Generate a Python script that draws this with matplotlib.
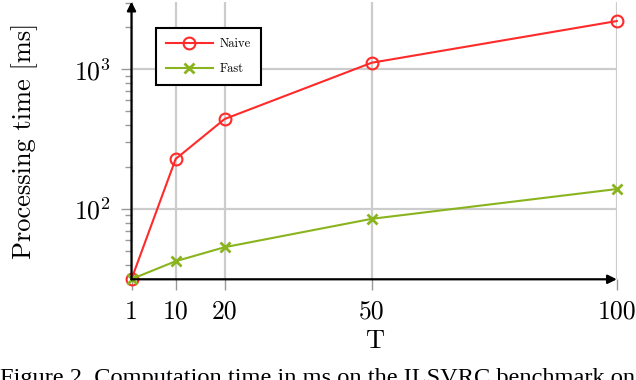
import numpy as np
import matplotlib
matplotlib.use('Agg')
import matplotlib.pyplot as plt
from matplotlib.ticker import FixedLocator, LogLocator, NullFormatter

# Data
T = [1, 10, 20, 50, 100]
naive = [31.5, 228, 441, 1115, 2217]
fast = [31.5, 42.3, 53.3, 85.1, 139]
xticks = [1, 10, 20, 50, 100]

RED = '#ff2a2a'
GREEN = '#8ab41e'
GRID = '#cccccc'
TICK = '#999999'

plt.rcParams['font.family'] = 'cmr10'
plt.rcParams['mathtext.fontset'] = 'cm'
plt.rcParams['axes.formatter.use_mathtext'] = True

fig = plt.figure(figsize=(6.36, 3.8), dpi=100)
ax = fig.add_axes([131.5 / 636, 1 - 279.3 / 380, (616.8 - 131.5) / 636, (279.3 - 1.7) / 380])

ax.plot(T, naive, color=RED, lw=1.5, marker='o', ms=8.5, mfc='none', mew=1.5,
		clip_on=False, zorder=4, label='Naive')
ax.plot(T, fast, color=GREEN, lw=1.5, marker='x', ms=7, mew=2,
		clip_on=False, zorder=4, label='Fast')

ax.set_yscale('log')
ax.set_xlim(1, 100)
ax.set_ylim(31.4, 3050)

ax.xaxis.set_major_locator(FixedLocator(xticks))
ax.set_xticklabels([str(t) for t in xticks])
ax.yaxis.set_major_locator(FixedLocator([100, 1000]))
ax.yaxis.set_minor_locator(LogLocator(base=10, subs=np.arange(2, 10)))
ax.yaxis.set_minor_formatter(NullFormatter())

ax.grid(True, which='major', color=GRID, lw=1.6)
ax.set_axisbelow(True)

ax.tick_params(axis='both', which='major', length=8, width=1, color=TICK,
			   labelsize=18.5, direction='out')
ax.tick_params(axis='y', which='minor', length=5, width=1, color=TICK)
ax.tick_params(axis='x', pad=7)
ax.tick_params(axis='y', pad=7)

for s in ax.spines.values():
	s.set_visible(False)

# Axis lines with arrows
ax.annotate('', xy=(1.0, 0), xytext=(0, 0), xycoords='axes fraction',
			arrowprops=dict(arrowstyle='-|>', color='black', lw=1.6, mutation_scale=13,
							shrinkA=0, shrinkB=0), zorder=5)
ax.annotate('', xy=(0, 1.0), xytext=(0, 0), xycoords='axes fraction',
			arrowprops=dict(arrowstyle='-|>', color='black', lw=1.6, mutation_scale=13,
							shrinkA=0, shrinkB=0), zorder=5)

ax.set_xlabel('T', fontsize=19, labelpad=4)
ax.set_ylabel('Processing time [ms]', fontsize=19, labelpad=26)

leg = ax.legend(loc='upper left', bbox_to_anchor=(155.7 / 636, 1 - 28.3 / 380),
				bbox_transform=fig.transFigure, borderaxespad=0, fontsize=9,
				fancybox=False, edgecolor='black', framealpha=1,
				handlelength=3.8, handletextpad=0.5, labelspacing=1.0,
				borderpad=0.8)
leg.get_frame().set_linewidth(1.5)

fig.text(0.0, 1 - 368 / 380, 'Figure 2. Computation time in ms on the ILSVRC benchmark on',
		 family='Liberation Serif', fontsize=17.6, va='top', ha='left')

fig.savefig('out.png', dpi=100)
